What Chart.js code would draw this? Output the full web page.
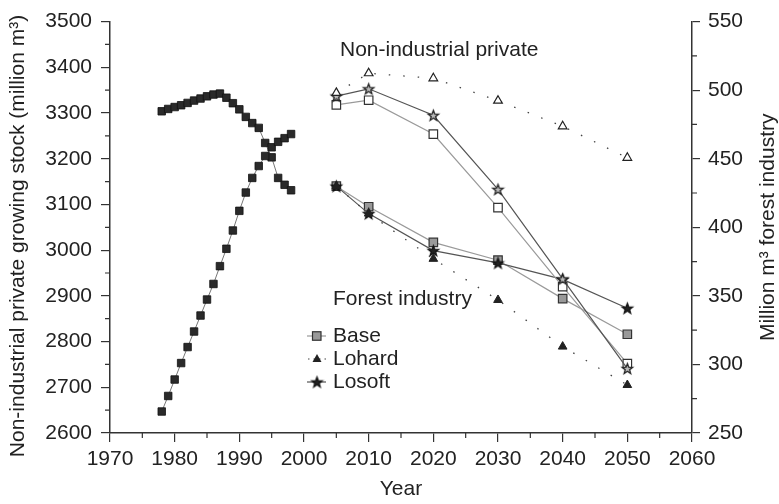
<!DOCTYPE html>
<html>
<head>
<meta charset="utf-8">
<script src="https://cdn.jsdelivr.net/npm/chart.js@4.4.1/dist/chart.umd.min.js"></script>
<style>
  html, body { margin: 0; padding: 0; background: #fff; }
  #wrap { position: relative; width: 779px; height: 504px; }
</style>
</head>
<body>
<div id="wrap"><canvas id="chart" width="779" height="504"></canvas></div>
<script>
// historical series (1978-1998)
const histYears = [1978,1979,1980,1981,1982,1983,1984,1985,1986,1987,1988,1989,1990,1991,1992,1993,1994,1995,1996,1997,1998];
const histNip   = [2647,2681,2717,2753,2788,2822,2857,2892,2926,2965,3003,3043,3086,3126,3158,3184,3206,3225,3237,3245,3254];
const histFi    = [484.6,486.3,487.7,489.0,490.7,492.4,493.9,495.5,496.8,497.5,494.5,490.5,486,480.5,476,472.5,461.5,451,436,431,427];

// scenario projections
const projYears = [2005, 2010, 2020, 2030, 2040, 2050];
const nipBase   = [3318, 3328, 3254, 3093, 2920, 2752];
const nipLohard = [3344, 3387, 3376, 3327, 3271, 3202];
const nipLosoft = [3337, 3353, 3295, 3133, 2937, 2741];
const fiBase    = [430, 415, 389, 376, 348, 322];
const fiLohard  = [430, 410, 377, 347, 313, 285];
const fiLosoft  = [430, 410, 383, 374, 362, 341];

const scenarios = ['Base', 'Lohard', 'Losoft'];

const FONT = '"Liberation Sans", Arial, Helvetica, sans-serif';
const INK = '#222';
const AXIS = '#333';

const pts = (xs, ys) => xs.map((x, i) => ({ x, y: ys[i] }));

// 5-point star as a point image
function starCanvas(r, fill, stroke) {
  const s = Math.ceil(r * 2 + 4), c = document.createElement('canvas');
  c.width = c.height = s;
  const g = c.getContext('2d');
  g.translate(s / 2, s / 2 + 0.5);
  g.beginPath();
  for (let i = 0; i < 10; i++) {
    const rr = i % 2 ? r * 0.42 : r, a = -Math.PI / 2 + i * Math.PI / 5;
    g.lineTo(Math.cos(a) * rr, Math.sin(a) * rr);
  }
  g.closePath();
  g.fillStyle = fill; g.fill();
  g.lineWidth = 1.3; g.strokeStyle = stroke; g.stroke();
  return c;
}
const starOpen = starCanvas(5.5, '#bbb', '#222');
const starFill = starCanvas(5.5, '#222', '#111');

const DOT = [1.5, 13];

const datasets = [
  { data: pts(histYears, histNip), yAxisID: 'y', borderColor: '#777', borderWidth: 1,
    pointStyle: 'rect', pointRadius: 5.3, backgroundColor: '#2a2a2a', pointBorderColor: '#111', pointBorderWidth: 0.8 },
  { data: pts(histYears, histFi), yAxisID: 'y1', borderColor: '#777', borderWidth: 1,
    pointStyle: 'rect', pointRadius: 5.3, backgroundColor: '#2a2a2a', pointBorderColor: '#111', pointBorderWidth: 0.8 },

  // non-industrial private (left axis), open markers
  { data: pts(projYears, nipLohard), yAxisID: 'y', borderColor: '#444', borderWidth: 1.3, borderDash: DOT,
    pointStyle: 'triangle', pointRadius: 5, backgroundColor: '#fff', pointBorderColor: '#222', pointBorderWidth: 1.2 },
  { data: pts(projYears, nipLosoft), yAxisID: 'y', borderColor: '#555', borderWidth: 1.2,
    pointStyle: starOpen, pointRadius: 5 },
  { data: pts(projYears, nipBase), yAxisID: 'y', borderColor: '#9a9a9a', borderWidth: 1.2,
    pointStyle: 'rect', pointRadius: 6, backgroundColor: '#fff', pointBorderColor: '#333', pointBorderWidth: 1.2 },

  // forest industry (right axis), filled markers
  { data: pts(projYears, fiLohard), yAxisID: 'y1', borderColor: '#444', borderWidth: 1.3, borderDash: DOT,
    pointStyle: 'triangle', pointRadius: 5, backgroundColor: '#222', pointBorderColor: '#222', pointBorderWidth: 1 },
  { data: pts(projYears, fiLosoft), yAxisID: 'y1', borderColor: '#555', borderWidth: 1.2,
    pointStyle: starFill, pointRadius: 5 },
  { data: pts(projYears, fiBase), yAxisID: 'y1', borderColor: '#9a9a9a', borderWidth: 1.2,
    pointStyle: 'rect', pointRadius: 6, backgroundColor: '#999', pointBorderColor: '#333', pointBorderWidth: 1.2 }
];
datasets.forEach(d => { d.showLine = true; d.fill = false; d.tension = 0; });

// minor ticks between the labelled ones
const minorTicks = {
  id: 'minorTicks',
  afterDraw(chart) {
    const { ctx, chartArea: a, scales } = chart;
    ctx.save();
    ctx.strokeStyle = AXIS; ctx.lineWidth = 1.2;
    ctx.beginPath();
    for (let v = 1975; v < 2060; v += 10) {
      const px = scales.x.getPixelForValue(v);
      ctx.moveTo(px, a.bottom); ctx.lineTo(px, a.bottom + 5);
    }
    for (let v = 2650; v < 3500; v += 100) {
      const py = scales.y.getPixelForValue(v);
      ctx.moveTo(a.left, py); ctx.lineTo(a.left - 5, py);
    }
    for (let v = 275; v < 550; v += 50) {
      const py = scales.y1.getPixelForValue(v);
      ctx.moveTo(a.right, py); ctx.lineTo(a.right + 5, py);
    }
    ctx.stroke();
    ctx.restore();
  }
};

// group labels, scenario legend, both axis titles (both read upward)
const notes = {
  id: 'notes',
  afterDraw(chart) {
    const { ctx, chartArea: a } = chart;
    ctx.save();
    ctx.fillStyle = INK;
    ctx.font = '21px ' + FONT;
    ctx.textBaseline = 'middle';
    ctx.fillText('Non-industrial private', 340, 50);
    ctx.fillText('Forest industry', 333, 299);

    const rows = [336, 359, 382];
    rows.forEach((y, i) => ctx.fillText(scenarios[i], 333, y));

    const vtext = (txt, x, y) => {
      ctx.save();
      ctx.translate(x, y);
      ctx.rotate(-Math.PI / 2);
      ctx.textAlign = 'center';
      ctx.fillText(txt, 0, 0);
      ctx.restore();
    };
    vtext('Non-industrial private growing stock (million m³)', 18, 236);
    vtext('Million m³ forest industry', 768, (a.top + a.bottom) / 2);

    // Base
    ctx.strokeStyle = '#9a9a9a'; ctx.lineWidth = 1.2;
    ctx.beginPath(); ctx.moveTo(307, rows[0]); ctx.lineTo(326, rows[0]); ctx.stroke();
    ctx.fillStyle = '#999'; ctx.strokeStyle = '#333';
    ctx.fillRect(312.5, rows[0] - 4.25, 8.5, 8.5); ctx.strokeRect(312.5, rows[0] - 4.25, 8.5, 8.5);
    // Lohard
    ctx.strokeStyle = '#444'; ctx.setLineDash([1.5, 4]);
    ctx.beginPath(); ctx.moveTo(308, rows[1]); ctx.lineTo(326, rows[1]); ctx.stroke();
    ctx.setLineDash([]);
    ctx.fillStyle = '#222';
    ctx.beginPath();
    ctx.moveTo(317, rows[1] - 5); ctx.lineTo(321.5, rows[1] + 3); ctx.lineTo(312.5, rows[1] + 3);
    ctx.closePath(); ctx.fill();
    // Losoft
    ctx.strokeStyle = '#555';
    ctx.beginPath(); ctx.moveTo(307, rows[2]); ctx.lineTo(326, rows[2]); ctx.stroke();
    ctx.drawImage(starFill, 317 - starFill.width / 2, rows[2] - starFill.height / 2);
    ctx.restore();
  }
};

const tickFont = { family: FONT, size: 21 };
const titleFont = { family: FONT, size: 21 };
const plain = v => String(v);

new Chart(document.getElementById('chart'), {
  type: 'scatter',
  data: { datasets },
  options: {
    responsive: false,
    animation: false,
    layout: { padding: { top: 20, left: 0, right: 0, bottom: 0 } },
    plugins: { legend: { display: false }, tooltip: { enabled: false } },
    scales: {
      x: {
        type: 'linear', min: 1970, max: 2060,
        ticks: { stepSize: 10, color: INK, font: tickFont, padding: 5, maxRotation: 0, autoSkip: false, callback: plain },
        grid: { drawOnChartArea: false, drawTicks: true, tickLength: 9, color: AXIS, lineWidth: 1.2 },
        border: { display: true, color: AXIS, width: 1.5 },
        title: { display: true, text: 'Year', color: INK, font: titleFont, padding: { top: 0, bottom: 2 } },
        afterFit(s) { s.height = 71; }
      },
      y: {
        position: 'left', min: 2600, max: 3500,
        ticks: { stepSize: 100, color: INK, font: tickFont, padding: 9, callback: plain },
        grid: { drawOnChartArea: false, drawTicks: true, tickLength: 9, color: AXIS, lineWidth: 1.2 },
        border: { display: true, color: AXIS, width: 1.5 },
        title: { display: false },
        afterFit(s) { s.width = 110; }
      },
      y1: {
        position: 'right', min: 250, max: 550,
        ticks: { stepSize: 50, color: INK, font: tickFont, padding: 8, callback: plain },
        grid: { drawOnChartArea: false, drawTicks: true, tickLength: 8, color: AXIS, lineWidth: 1.2 },
        border: { display: true, color: AXIS, width: 1.5 },
        title: { display: false },
        afterFit(s) { s.width = 87; }
      }
    }
  },
  plugins: [minorTicks, notes]
});
</script>
</body>
</html>
